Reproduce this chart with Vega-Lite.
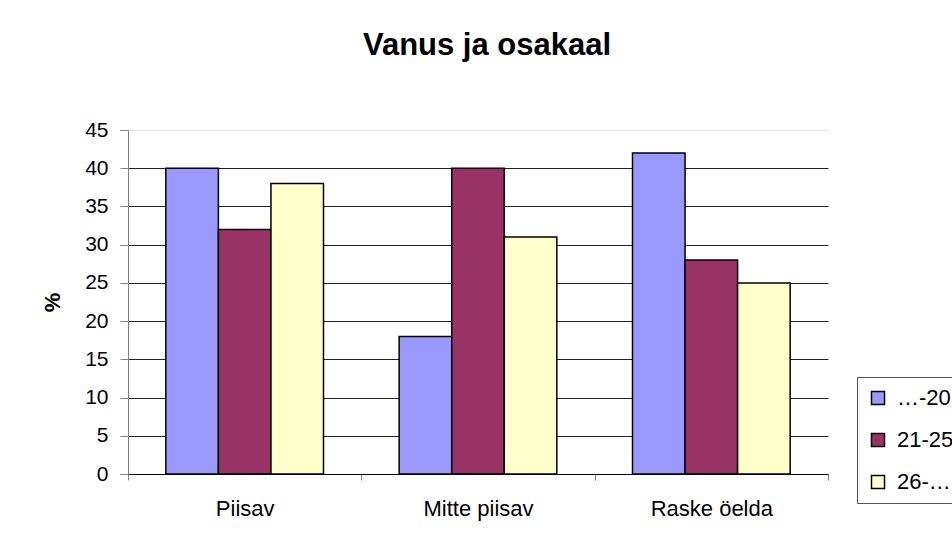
{
  "$schema": "https://vega.github.io/schema/vega-lite/v6.json",
  "autosize": {"type": "none"},
  "width": 700,
  "height": 344,
  "padding": {"left": 128, "top": 130, "right": 124, "bottom": 77},
  "background": "white",
  "title": {
    "text": "Vanus ja osakaal",
    "font": "Liberation Sans",
    "fontSize": 31,
    "fontWeight": "bold",
    "color": "black",
    "anchor": "middle",
    "dx": 9,
    "offset": 57
  },
  "data": {
    "values": [
      {"cat": "Piisav", "age": "…-20", "pct": 40},
      {"cat": "Piisav", "age": "21-25", "pct": 32},
      {"cat": "Piisav", "age": "26-…", "pct": 38},
      {"cat": "Mitte piisav", "age": "…-20", "pct": 18},
      {"cat": "Mitte piisav", "age": "21-25", "pct": 40},
      {"cat": "Mitte piisav", "age": "26-…", "pct": 31},
      {"cat": "Raske öelda", "age": "…-20", "pct": 42},
      {"cat": "Raske öelda", "age": "21-25", "pct": 28},
      {"cat": "Raske öelda", "age": "26-…", "pct": 25}
    ]
  },
  "mark": {"type": "bar", "stroke": "black", "strokeWidth": 1.5},
  "encoding": {
    "x": {
      "field": "cat",
      "type": "nominal",
      "sort": ["Piisav", "Mitte piisav", "Raske öelda"],
      "scale": {"paddingInner": 0, "paddingOuter": 0},
      "axis": {
        "title": null,
        "labelAngle": 0,
        "tickBand": "extent",
        "domainColor": "black",
        "domainWidth": 1,
        "tickColor": "#808080",
        "tickSize": 6,
        "labelFont": "Liberation Sans",
        "labelFontSize": 22,
        "labelColor": "black",
        "labelPadding": 18,
        "grid": false
      }
    },
    "xOffset": {
      "field": "age",
      "type": "nominal",
      "sort": ["…-20", "21-25", "26-…"],
      "scale": {"paddingInner": 0, "paddingOuter": 0.72}
    },
    "y": {
      "field": "pct",
      "type": "quantitative",
      "scale": {"domain": [0, 45], "nice": false},
      "axis": {
        "title": "%",
        "titleFont": "Liberation Sans",
        "titleFontSize": 22,
        "titleFontWeight": "bold",
        "titleColor": "black",
        "titlePadding": 20,
        "values": [0, 5, 10, 15, 20, 25, 30, 35, 40, 45],
        "labelFont": "Liberation Sans",
        "labelFontSize": 21,
        "labelColor": "black",
        "labelPadding": 12,
        "tickSize": 8,
        "tickColor": "#808080",
        "domainColor": "#808080",
        "grid": true,
        "gridColor": {"condition": {"test": "datum.value == 45", "value": "#e4e4e4"}, "value": "#222222"},
        "gridWidth": 1
      }
    },
    "color": {
      "field": "age",
      "type": "nominal",
      "sort": ["…-20", "21-25", "26-…"],
      "scale": {"domain": ["…-20", "21-25", "26-…"], "range": ["#9999FF", "#993366", "#FFFFCC"]},
      "legend": {
        "title": null,
        "orient": "none",
        "legendX": 729,
        "legendY": 247,
        "symbolType": "square",
        "symbolSize": 170,
        "symbolStrokeColor": "black",
        "symbolStrokeWidth": 1.5,
        "labelFont": "Liberation Sans",
        "labelFontSize": 22,
        "labelColor": "black",
        "labelOffset": 8,
        "rowPadding": 20,
        "padding": 10,
        "strokeColor": "#555555",
        "fillColor": "white"
      }
    }
  },
  "config": {"view": {"stroke": null}}
}
